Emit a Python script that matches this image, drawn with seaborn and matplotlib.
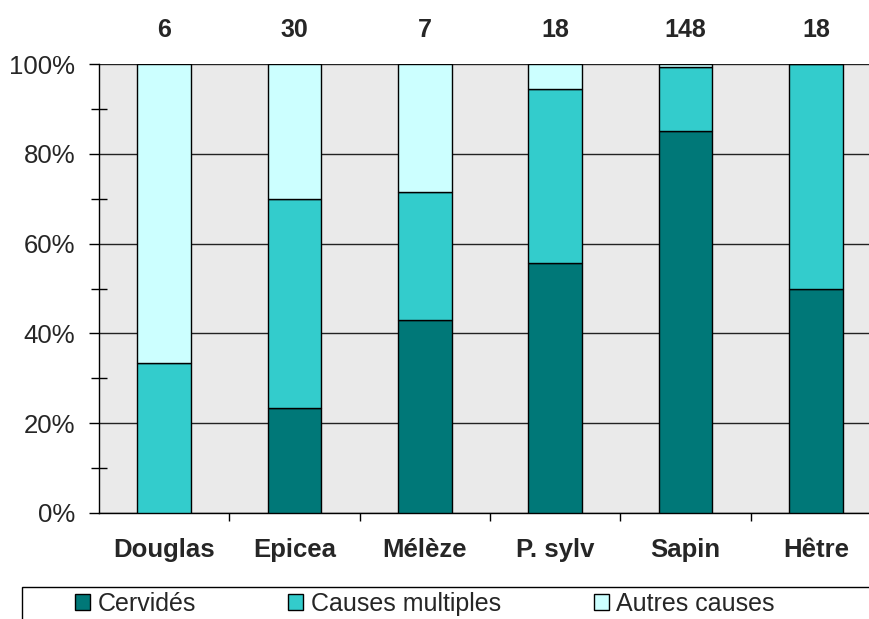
import numpy as np
import pandas as pd
import seaborn as sns
import matplotlib.pyplot as plt
from matplotlib.patches import Patch, Rectangle
from matplotlib.ticker import MultipleLocator, FixedLocator, PercentFormatter

essences = ["Douglas", "Epicea", "Mélèze", "P. sylv", "Sapin", "Hêtre"]
effectifs = [6, 30, 7, 18, 148, 18]
cervides = [0.0, 23.3, 42.9, 55.6, 85.1, 50.0]
multiples = [33.3, 46.7, 28.6, 38.9, 14.2, 50.0]
autres = [66.7, 30.0, 28.5, 5.5, 0.7, 0.0]

df = pd.DataFrame({"essence": essences, "cervides": cervides,
                   "multiples": multiples, "autres": autres})
df["bas2"] = df["cervides"]
df["bas3"] = df["cervides"] + df["multiples"]

c1, c2, c3 = "#007878", "#33CCCC", "#CCFFFF"

sns.set_style("white")
plt.rcParams["font.family"] = ["Liberation Sans", "DejaVu Sans"]

fig = plt.figure(figsize=(8.7, 6.19), dpi=100)
ax = fig.add_axes([99 / 870, 1 - 513 / 619, 782 / 870, 449 / 619])
ax.set_facecolor("#EAEAEA")

kw = dict(width=0.41, edgecolor="black", linewidth=1, ax=ax, zorder=3,
          saturation=1)
sns.barplot(data=df, x="essence", y="cervides", color=c1, **kw)
sns.barplot(data=df, x="essence", y="multiples", bottom=df["bas2"], color=c2, **kw)
sns.barplot(data=df, x="essence", y="autres", bottom=df["bas3"], color=c3, **kw)

ax.set_xlim(-0.5, 5.5)
ax.set_ylim(0, 100)
ax.set_xlabel("")
ax.set_ylabel("")

ax.yaxis.set_major_locator(MultipleLocator(20))
ax.yaxis.set_minor_locator(MultipleLocator(10))
ax.yaxis.set_major_formatter(PercentFormatter(decimals=0))
ax.grid(axis="y", which="major", color="#222222", linewidth=1, zorder=0)
ax.set_axisbelow(True)

ax.xaxis.set_minor_locator(FixedLocator(np.arange(0.5, 5, 1)))
ax.tick_params(axis="x", which="major", length=0, pad=18, labelsize=18.5)
ax.tick_params(axis="x", which="minor", length=6, width=1, direction="out",
               color="black", bottom=True)
ax.tick_params(axis="y", which="major", length=7, width=1, direction="out",
               color="black", pad=10, labelsize=18.5, left=True)
ax.tick_params(axis="y", which="minor", length=11, width=1, direction="inout",
               color="black", left=True)
for lab in ax.get_xticklabels():
    lab.set_fontweight("bold")

for s in ["top", "right"]:
    ax.spines[s].set_visible(False)
for s in ["left", "bottom"]:
    ax.spines[s].set_color("black")
    ax.spines[s].set_linewidth(1)

for i, n in enumerate(effectifs):
    ax.text(i, 107.5, str(n), ha="center", va="center", fontsize=18,
            fontweight="bold", clip_on=False)

# cadre de la légende (coupé par le bord de l'image comme l'original)
fig.patches.append(Rectangle((22 / 870, -0.1), 1.0, (619 - 587) / 619 + 0.1,
                             transform=fig.transFigure, fill=False,
                             edgecolor="black", linewidth=1))

handles = [Patch(facecolor=c1, edgecolor="black", label="Cervidés"),
           Patch(facecolor=c2, edgecolor="black", label="Causes multiples"),
           Patch(facecolor=c3, edgecolor="black", label="Autres causes")]
leg = fig.legend(handles=handles, loc="center left", ncol=3,
                 bbox_to_anchor=(75 / 870, 1 - 604 / 619), frameon=False,
                 fontsize=18, handlelength=0.6, handleheight=0.6,
                 handletextpad=0.3, columnspacing=3.7, borderpad=0,
                 borderaxespad=0)

fig.savefig("out.png", dpi=100)
